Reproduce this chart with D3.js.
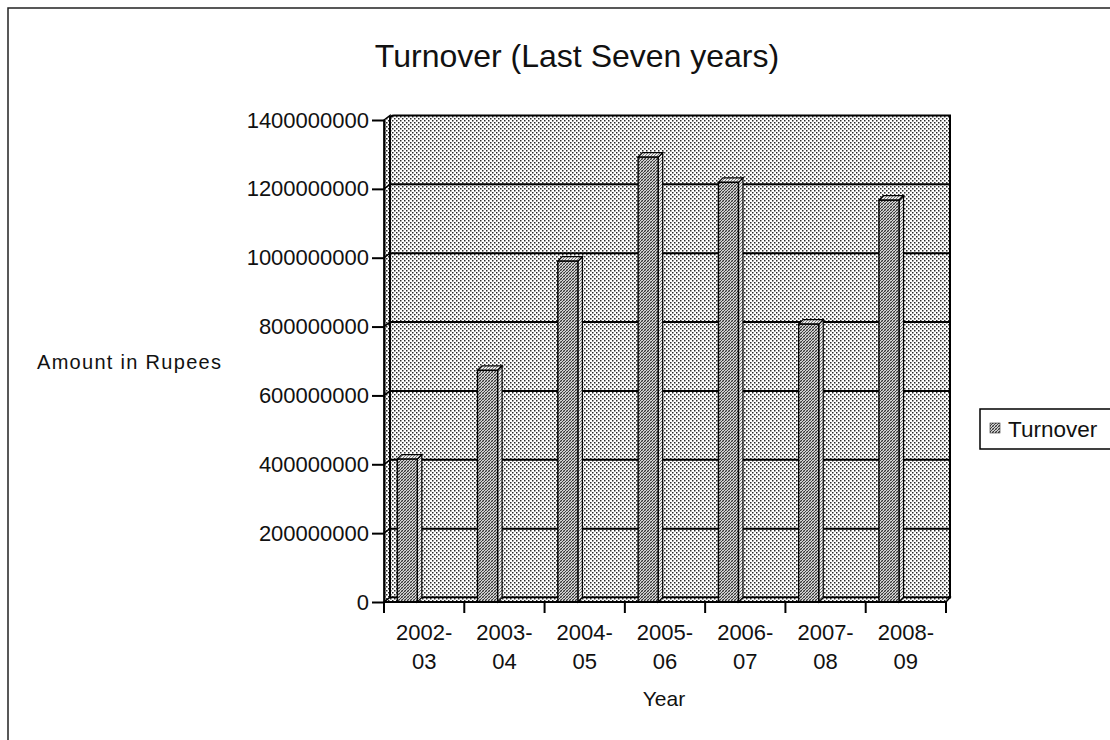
<!DOCTYPE html>
<html>
<head>
<meta charset="utf-8">
<script src="https://cdn.jsdelivr.net/npm/d3@7"></script>
<style>
  html, body { margin: 0; padding: 0; background: #fff; }
  svg { display: block; }
  text { font-family: "Liberation Sans", Arial, sans-serif; fill: #111; }
</style>
</head>
<body>
<svg id="chart" width="1110" height="740"></svg>
<script>
const categories = ["2002-03", "2003-04", "2004-05", "2005-06", "2006-07", "2007-08", "2008-09"];
const turnover = [415000000, 673000000, 990000000, 1292000000, 1219000000, 807000000, 1167000000];
const yTicks = [0, 200000000, 400000000, 600000000, 800000000, 1000000000, 1200000000, 1400000000];
const seriesName = "Turnover";
const titleText = "Turnover (Last Seven years)";
const yTitle = "Amount in Rupees";
const xTitle = "Year";

const svg = d3.select("#chart");
const defs = svg.append("defs");

// halftone-like wall pattern
const wall = defs.append("pattern").attr("id", "wallPat").attr("patternUnits", "userSpaceOnUse")
  .attr("width", 4).attr("height", 4);
wall.append("rect").attr("width", 4).attr("height", 4).attr("fill", "#fff");
wall.append("rect").attr("x", 0).attr("y", 0).attr("width", 1.5).attr("height", 1.5).attr("fill", "#2a2a2a");
wall.append("rect").attr("x", 2).attr("y", 2).attr("width", 1.5).attr("height", 1.5).attr("fill", "#2a2a2a");

// crosshatch for bar fronts
const bar = defs.append("pattern").attr("id", "barPat").attr("patternUnits", "userSpaceOnUse")
  .attr("width", 3).attr("height", 3);
bar.append("rect").attr("width", 3).attr("height", 3).attr("fill", "#d4d4d4");
bar.append("path").attr("d", "M0,3 L3,0 M-1,1 L1,-1 M2,4 L4,2").attr("stroke", "#222").attr("stroke-width", 0.9);
bar.append("path").attr("d", "M0,0 L3,3").attr("stroke", "#555").attr("stroke-width", 0.5);

// lighter hatch for bar sides / tops
const side = defs.append("pattern").attr("id", "sidePat").attr("patternUnits", "userSpaceOnUse")
  .attr("width", 3).attr("height", 3);
side.append("rect").attr("width", 3).attr("height", 3).attr("fill", "#ececec");
side.append("path").attr("d", "M0,3 L3,0").attr("stroke", "#444").attr("stroke-width", 0.7);

// outer frame
svg.append("rect").attr("x", 8).attr("y", 8).attr("width", 1200).attr("height", 900)
  .attr("fill", "none").attr("stroke", "#222").attr("stroke-width", 1.5);

const x = d3.scaleBand().domain(categories).range([384, 946]).padding(0);
const y = d3.scaleLinear().domain([0, 1400000000]).range([602, 120]);
const dx = 6, dy = -4.5;
const x0 = x.range()[0], x1 = x.range()[1];

// left side wall
svg.append("path")
  .attr("d", `M${x0},${y(1400000000)} L${x0 + dx},${y(1400000000) + dy} L${x0 + dx},${y(0) + dy} L${x0},${y(0)} Z`)
  .attr("fill", "url(#wallPat)").attr("stroke", "#000").attr("stroke-width", 1.5);

// back wall
svg.append("path")
  .attr("d", `M${x0 + dx},${y(0) + dy} L${x0 + dx},${y(1400000000) + dy + 4} Q${x0 + dx},${y(1400000000) + dy} ${x0 + dx + 4},${y(1400000000) + dy} L${x1 + dx - 2},${y(1400000000) + dy} L${x1 + dx - 2},${y(0) + dy} Z`)
  .attr("fill", "url(#wallPat)").attr("stroke", "#000").attr("stroke-width", 2);

// floor
svg.append("path")
  .attr("d", `M${x0},${y(0)} L${x0 + dx},${y(0) + dy} L${x1 + dx - 2},${y(0) + dy} L${x1},${y(0)} Z`)
  .attr("fill", "url(#wallPat)").attr("stroke", "#000").attr("stroke-width", 1.5);

// gridlines on back wall
svg.append("g").selectAll("line").data(yTicks.filter(t => t > 0 && t < 1400000000)).join("line")
  .attr("x1", x0 + dx).attr("x2", x1 + dx - 2)
  .attr("y1", d => y(d) + dy).attr("y2", d => y(d) + dy)
  .attr("stroke", "#000").attr("stroke-width", 2);
svg.append("g").selectAll("line").data(yTicks.filter(t => t > 0 && t < 1400000000)).join("line")
  .attr("x1", x0).attr("x2", x0 + dx)
  .attr("y1", d => y(d)).attr("y2", d => y(d) + dy)
  .attr("stroke", "#000").attr("stroke-width", 1.5);

// bars
const bw = x.bandwidth() * 0.25;
const boff = x.bandwidth() * 0.165;
const sw = 4.5;
const bars = svg.append("g").selectAll("g").data(categories.map((c, i) => ({ c, v: turnover[i] }))).join("g");
bars.append("path") // side
  .attr("d", d => {
    const bx = x(d.c) + boff + bw, yt = y(d.v), yb = y(0);
    return `M${bx},${yt} L${bx + sw},${yt + dy} L${bx + sw},${yb + dy} L${bx},${yb} Z`;
  })
  .attr("fill", "url(#sidePat)").attr("stroke", "#000").attr("stroke-width", 1.2);
bars.append("path") // top
  .attr("d", d => {
    const bx = x(d.c) + boff, yt = y(d.v);
    return `M${bx},${yt} L${bx + sw},${yt + dy} L${bx + bw + sw},${yt + dy} L${bx + bw},${yt} Z`;
  })
  .attr("fill", "url(#sidePat)").attr("stroke", "#000").attr("stroke-width", 1.2);
bars.append("rect") // front
  .attr("x", d => x(d.c) + boff).attr("y", d => y(d.v))
  .attr("width", bw).attr("height", d => y(0) - y(d.v))
  .attr("fill", "url(#barPat)").attr("stroke", "#000").attr("stroke-width", 1.4);

// y axis
const yAxis = svg.append("g").attr("transform", `translate(${x0},0)`)
  .call(d3.axisLeft(y).tickValues(yTicks).tickFormat(d3.format("d")).tickSize(12).tickSizeOuter(0).tickPadding(3));
yAxis.select(".domain").attr("stroke", "#000").attr("stroke-width", 2);
yAxis.selectAll(".tick line").attr("stroke", "#000").attr("stroke-width", 2);
yAxis.selectAll(".tick text").style("font-size", "22px").attr("fill", "#111")
  .style("font-family", '"Liberation Sans", Arial, sans-serif');

// x axis line and boundary ticks
svg.append("line").attr("x1", x0).attr("x2", x1).attr("y1", y(0)).attr("y2", y(0))
  .attr("stroke", "#000").attr("stroke-width", 2);
const bounds = categories.map(c => x(c)).concat([x1]);
svg.append("g").selectAll("line").data(bounds).join("line")
  .attr("x1", d => d).attr("x2", d => d).attr("y1", y(0)).attr("y2", y(0) + 11)
  .attr("stroke", "#000").attr("stroke-width", 2);

// x labels (two lines)
const xl = svg.append("g").selectAll("text").data(categories).join("text")
  .attr("x", d => x(d) + x.bandwidth() / 2).attr("y", 640)
  .attr("text-anchor", "middle").style("font-size", "22px");
xl.append("tspan").attr("x", d => x(d) + x.bandwidth() / 2).text(d => d.split("-")[0] + "-");
xl.append("tspan").attr("x", d => x(d) + x.bandwidth() / 2).attr("dy", 29).text(d => d.split("-")[1]);

// titles
svg.append("text").attr("x", 577).attr("y", 67).attr("text-anchor", "middle")
  .style("font-size", "32px").text(titleText);
svg.append("text").attr("x", 37).attr("y", 369).style("font-size", "20px")
  .style("letter-spacing", "1.3px").text(yTitle);
svg.append("text").attr("x", 664).attr("y", 706).attr("text-anchor", "middle")
  .style("font-size", "21px").text(xTitle);

// legend
svg.append("rect").attr("x", 980).attr("y", 409).attr("width", 200).attr("height", 40)
  .attr("fill", "#fff").attr("stroke", "#000").attr("stroke-width", 1.5);
svg.append("rect").attr("x", 990).attr("y", 423).attr("width", 10).attr("height", 10)
  .attr("fill", "url(#barPat)").attr("stroke", "#333").attr("stroke-width", 0.6);
svg.append("text").attr("x", 1008).attr("y", 437).style("font-size", "22.5px").text(seriesName);
</script>
</body>
</html>
